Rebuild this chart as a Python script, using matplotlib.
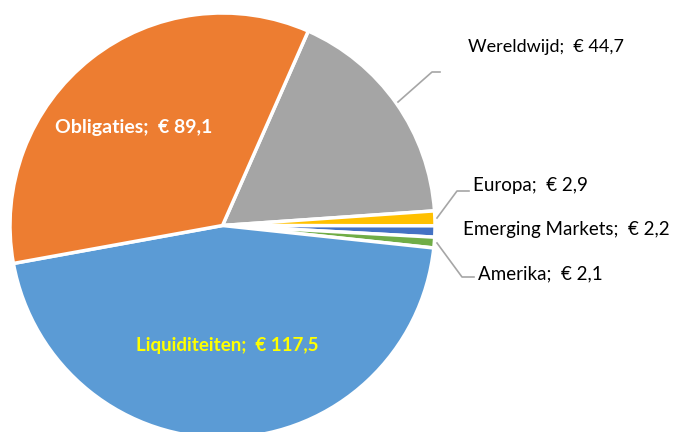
import matplotlib.pyplot as plt

# data
names = ['Wereldwijd', 'Europa', 'Emerging Markets', 'Amerika', 'Liquiditeiten', 'Obligaties']
values = [44.7, 2.9, 2.2, 2.1, 117.5, 89.1]
colors = ['#A5A5A5', '#FFC000', '#4472C4', '#70AD47', '#5B9BD5', '#ED7D31']

W, H = 682, 432


def label(name, val):
    return '%s;  € %s' % (name, ('%.1f' % val).replace('.', ','))


plt.rcParams['font.family'] = ['Lato', 'DejaVu Sans']

fig = plt.figure(figsize=(W / 100, H / 100), dpi=100)
ax = fig.add_axes([0, 0, 1, 1])

cx, cy, r = 222.5, H - 225.5, 212.5
ax.pie(values, colors=colors, startangle=90 - 23.8, counterclock=False,
       center=(cx, cy), radius=r, frame=True,
       wedgeprops=dict(edgecolor='white', linewidth=2.5))
ax.set_xlim(0, W)
ax.set_ylim(0, H)
ax.axis('off')

fs = 13.5
# inside labels
ax.text(133.5, H - 128, label(names[5], values[5]), color='white', fontsize=fs + 0.5,
        fontweight='bold', ha='center', va='center')
ax.text(227, H - 345, label(names[4], values[4]), color='#FFFF00', fontsize=fs,
        fontweight='bold', ha='center', va='center')

# outside labels
ax.text(468, H - 47, label(names[0], values[0]), fontsize=fs - 0.5, ha='left', va='center')
ax.text(473, H - 185, label(names[1], values[1]), fontsize=fs, ha='left', va='center')
ax.text(463, H - 230, label(names[2], values[2]), fontsize=fs, ha='left', va='center')
ax.text(478, H - 274, label(names[3], values[3]), fontsize=fs, ha='left', va='center')

# leader lines
lc = '#A6A6A6'
ax.plot([398, 432, 440], [H - 102, H - 72, H - 72], color=lc, lw=1.2)
ax.plot([437, 457, 469], [H - 218, H - 191, H - 191], color=lc, lw=1.2)
ax.plot([437, 462, 474], [H - 243, H - 277, H - 277], color=lc, lw=1.2)

fig.savefig('out.png', dpi=100)
